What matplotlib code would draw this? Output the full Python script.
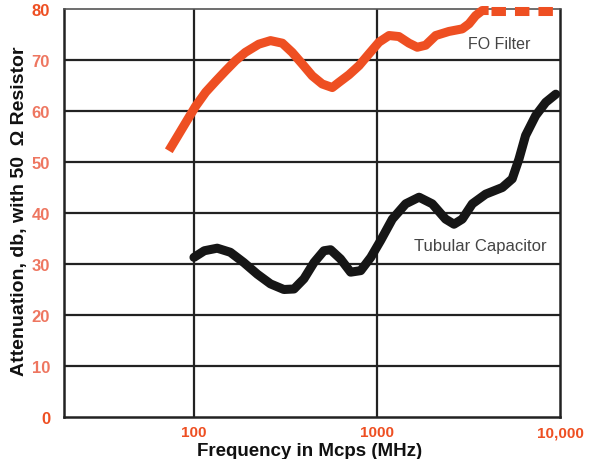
import matplotlib
matplotlib.use("Agg")
import matplotlib.pyplot as plt

plt.rcParams["font.family"] = ["Liberation Sans", "DejaVu Sans"]

# FO Filter (solid part): frequency in MHz, attenuation in dB
fo_freq = [72.9, 82.8, 94.0, 102, 116, 132, 149, 169, 191, 226, 262, 304, 344, 391, 443, 502, 570,
           619, 703, 798, 904, 1026, 1164, 1318, 1496, 1660, 1845, 2094, 2472, 2924, 3184, 3459, 3758, 4074]
fo_db = [52.2, 55.5, 58.8, 60.9, 63.7, 65.9, 67.9, 69.9, 71.5, 73.1, 73.8, 73.3, 71.5, 69.2, 66.9, 65.3, 64.6,
         65.6, 67.1, 68.9, 71.2, 73.5, 74.8, 74.6, 73.3, 72.5, 72.9, 74.8, 75.6, 76.1, 77.1, 78.7, 79.7, 79.7]
# FO Filter (dashed part, off-scale)
fo_dash_freq = [4200, 10000]
fo_dash_db = [79.7, 79.7]

# Tubular Capacitor
tc_freq = [100, 114, 134, 158, 187, 222, 262, 310, 352, 399, 453, 513, 558, 632, 718, 815, 925, 1047,
           1213, 1435, 1698, 2004, 2371, 2636, 2924, 3319, 3926, 4842, 5483, 5970, 6486, 7362, 8356, 9484]
tc_db = [31.3, 32.6, 33.1, 32.3, 30.3, 28.0, 26.1, 25.0, 25.1, 27.1, 30.3, 32.6, 32.8, 31.0, 28.4, 28.7, 31.3, 34.6,
         38.8, 41.8, 43.1, 41.8, 38.8, 37.8, 38.8, 41.8, 43.7, 45.0, 46.7, 50.6, 55.2, 59.1, 61.7, 63.3]

x_ticks = [100, 1000, 10000]
x_ticklabels = ["100", "1000", "10,000"]
y_ticks = [0, 10, 20, 30, 40, 50, 60, 70, 80]

ORANGE = "#ee4f22"
LIGHT = "#ee7660"

fig = plt.figure(figsize=(5.92, 4.60), dpi=100)
ax = fig.add_axes([64/592, 1-418/460, (560-64)/592, (418-10)/460])
ax.set_xscale("log")
ax.set_xlim(19.5, 10000)
ax.set_ylim(0, 80)

for y in y_ticks[1:-1]:
    ax.axhline(y, color="#222222", lw=1.6, zorder=1)
for x in x_ticks[:-1]:
    ax.axvline(x, color="#222222", lw=1.6, zorder=1)

ax.plot(fo_freq, fo_db, color=ORANGE, lw=6.5, solid_capstyle="butt", solid_joinstyle="round", zorder=3, clip_on=False)
ax.plot(fo_dash_freq, fo_dash_db, color=ORANGE, lw=6.5, dashes=(1.6, 1.0), zorder=3, clip_on=False)
ax.plot(tc_freq, tc_db, color="#161616", lw=6.5, solid_capstyle="round", solid_joinstyle="round", zorder=3)

for s in ax.spines.values():
    s.set_color("#222222")
    s.set_linewidth(1.8)
ax.spines["top"].set_color("#555555")
ax.spines["top"].set_linewidth(1.2)

ax.set_xticks(x_ticks)
ax.set_xticklabels(x_ticklabels)
ax.minorticks_off()
ax.set_yticks(y_ticks)
ax.set_yticklabels([str(v) for v in y_ticks])
ax.tick_params(axis="both", length=0)
ax.tick_params(axis="x", pad=6, labelsize=11, labelcolor=ORANGE)
ax.tick_params(axis="y", pad=10, labelsize=12, labelcolor=LIGHT)
for lbl in ax.get_xticklabels() + ax.get_yticklabels():
    lbl.set_fontweight("bold")
for lbl in ax.get_yticklabels():
    if lbl.get_text() in ("0", "80"):
        lbl.set_color(ORANGE)
ax.get_xticklabels()[-1].set_horizontalalignment("center")

ax.text(4640, 73.2, "FO Filter", fontsize=11.5, color="#444444", ha="center", va="center")
ax.text(3660, 33.7, "Tubular Capacitor", fontsize=12, color="#444444", ha="center", va="center")

fig.text(310/592, 1-452/460, "Frequency in Mcps (MHz)", fontsize=13.5, fontweight="bold", ha="center", va="center", color="#111111")
fig.text(20/592, 1-211/460, "Attenuation, db, with 50  Ω Resistor", fontsize=14, fontweight="bold", rotation=90, ha="center", va="center", color="#111111")

fig.savefig("out.png", dpi=100)
